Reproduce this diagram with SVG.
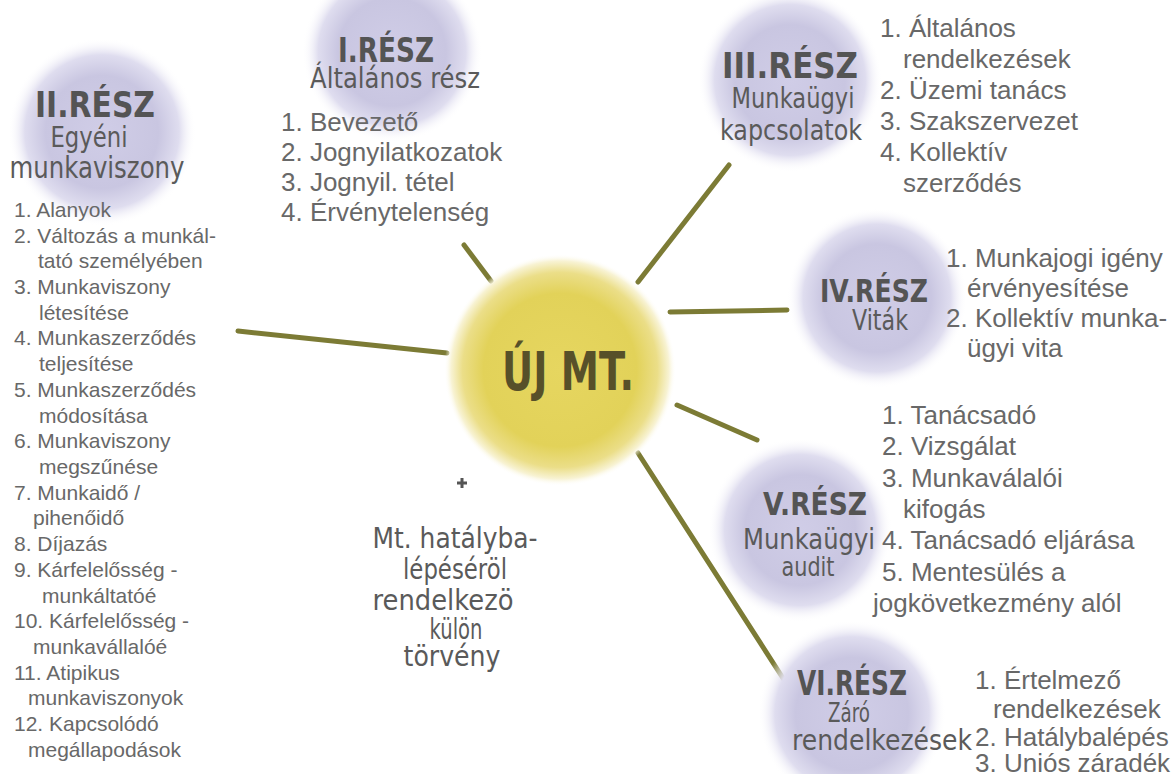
<svg xmlns="http://www.w3.org/2000/svg" width="1172" height="774" viewBox="0 0 1172 774">
<defs>
<radialGradient id="lav" cx="0.5" cy="0.5" r="0.5">
<stop offset="0" stop-color="#d0cde7"/>
<stop offset="0.6" stop-color="#c9c6e1"/>
<stop offset="0.82" stop-color="#dfddef"/>
<stop offset="1" stop-color="#ffffff" stop-opacity="0"/>
</radialGradient>
<radialGradient id="sun" cx="0.5" cy="0.5" r="0.5">
<stop offset="0" stop-color="#e6d660"/>
<stop offset="0.66" stop-color="#e2d259"/>
<stop offset="0.84" stop-color="#ebde88"/>
<stop offset="0.94" stop-color="#f8f3d4"/>
<stop offset="1" stop-color="#ffffff" stop-opacity="0"/>
</radialGradient>
<style>
.hd{font-family:"DejaVu Sans",sans-serif;font-weight:bold;fill:#545454;text-anchor:middle}
.sub{font-family:"DejaVu Sans",sans-serif;fill:#5a5a5a;text-anchor:middle}
.li{font-family:"Liberation Sans",Arial,sans-serif;fill:#686868}
.l21{font-size:21px}
.l26{font-size:26px}
.conn{stroke:#7c7b35;stroke-width:5;stroke-linecap:round;fill:none}
</style>
</defs>
<rect width="1172" height="774" fill="#ffffff"/>

<g id="connectors">
<line class="conn" x1="238" y1="331" x2="447" y2="353"/>
<line class="conn" x1="464" y1="245" x2="491" y2="281"/>
<line class="conn" x1="638" y1="282" x2="729" y2="165"/>
<line class="conn" x1="670" y1="312" x2="787" y2="310"/>
<line class="conn" x1="677" y1="405" x2="757" y2="440"/>
<line class="conn" x1="638" y1="453" x2="788" y2="686"/>
</g>

<g id="center">
<circle cx="560" cy="370" r="116" fill="url(#sun)"/>
<text class="hd" x="568" y="390" font-size="54" textLength="132" lengthAdjust="spacingAndGlyphs" style="fill:#575029">ÚJ MT.</text>
</g>

<g id="part1">
<circle cx="392" cy="52" r="90" fill="url(#lav)"/>
<text class="hd" x="386" y="62" font-size="34" textLength="96" lengthAdjust="spacingAndGlyphs">I.RÉSZ</text>
<text class="sub" x="395" y="88" font-size="28" textLength="170" lengthAdjust="spacingAndGlyphs">Általános rész</text>
<text class="li l26" x="281" y="131">1. Bevezető</text>
<text class="li l26" x="281" y="161">2. Jognyilatkozatok</text>
<text class="li l26" x="281" y="191">3. Jognyil. tétel</text>
<text class="li l26" x="281" y="221">4. Érvénytelenség</text>
</g>

<g id="part2">
<circle cx="102" cy="132" r="94" fill="url(#lav)"/>
<text class="hd" x="95" y="117" font-size="36" textLength="120" lengthAdjust="spacingAndGlyphs">II.RÉSZ</text>
<text class="sub" x="89" y="147" font-size="28" textLength="77" lengthAdjust="spacingAndGlyphs">Egyéni</text>
<text class="sub" x="97" y="178" font-size="30" textLength="175" lengthAdjust="spacingAndGlyphs">munkaviszony</text>
<text class="li l21" x="14" y="217">1. Alanyok</text>
<text class="li l21" x="14" y="243">2. Változás a munkál-</text>
<text class="li l21" x="38" y="268">tató személyében</text>
<text class="li l21" x="14" y="294">3. Munkaviszony</text>
<text class="li l21" x="39" y="320">létesítése</text>
<text class="li l21" x="14" y="345">4. Munkaszerződés</text>
<text class="li l21" x="39" y="371">teljesítése</text>
<text class="li l21" x="14" y="397">5. Munkaszerződés</text>
<text class="li l21" x="39" y="423">módosítása</text>
<text class="li l21" x="14" y="448">6. Munkaviszony</text>
<text class="li l21" x="39" y="474">megszűnése</text>
<text class="li l21" x="14" y="500">7. Munkaidő /</text>
<text class="li l21" x="33" y="525">pihenőidő</text>
<text class="li l21" x="14" y="551">8. Díjazás</text>
<text class="li l21" x="14" y="577">9. Kárfelelősség -</text>
<text class="li l21" x="42" y="603">munkáltatóé</text>
<text class="li l21" x="14" y="628">10. Kárfelelősség -</text>
<text class="li l21" x="33" y="654">munkavállalóé</text>
<text class="li l21" x="14" y="680">11. Atipikus</text>
<text class="li l21" x="28" y="705">munkaviszonyok</text>
<text class="li l21" x="14" y="731">12. Kapcsolódó</text>
<text class="li l21" x="28" y="757">megállapodások</text>
</g>

<g id="part3">
<circle cx="790" cy="80" r="92" fill="url(#lav)"/>
<text class="hd" x="790" y="78" font-size="36" textLength="136" lengthAdjust="spacingAndGlyphs">III.RÉSZ</text>
<text class="sub" x="793" y="108" font-size="28" textLength="123" lengthAdjust="spacingAndGlyphs">Munkaügyi</text>
<text class="sub" x="791" y="140" font-size="28" textLength="142" lengthAdjust="spacingAndGlyphs">kapcsolatok</text>
<text class="li l26" x="880" y="37">1. Általános</text>
<text class="li l26" x="903" y="68">rendelkezések</text>
<text class="li l26" x="880" y="99">2. Üzemi tanács</text>
<text class="li l26" x="880" y="130">3. Szakszervezet</text>
<text class="li l26" x="880" y="161">4. Kollektív</text>
<text class="li l26" x="903" y="192">szerződés</text>
</g>

<g id="part4">
<circle cx="877" cy="298" r="90" fill="url(#lav)"/>
<text class="hd" x="874" y="302" font-size="32" textLength="108" lengthAdjust="spacingAndGlyphs">IV.RÉSZ</text>
<text class="sub" x="880" y="330" font-size="28" textLength="56" lengthAdjust="spacingAndGlyphs">Viták</text>
<text class="li l26" x="946" y="267">1. Munkajogi igény</text>
<text class="li l26" x="967" y="297">érvényesítése</text>
<text class="li l26" x="946" y="327">2. Kollektív munka-</text>
<text class="li l26" x="967" y="357">ügyi vita</text>
</g>

<g id="part5">
<circle cx="800" cy="530" r="92" fill="url(#lav)"/>
<text class="hd" x="815" y="515" font-size="32" textLength="104" lengthAdjust="spacingAndGlyphs">V.RÉSZ</text>
<text class="sub" x="809" y="549" font-size="28" textLength="132" lengthAdjust="spacingAndGlyphs">Munkaügyi</text>
<text class="sub" x="808" y="576" font-size="26" textLength="53" lengthAdjust="spacingAndGlyphs">audit</text>
<text class="li l26" x="882" y="424">1. Tanácsadó</text>
<text class="li l26" x="882" y="455">2. Vizsgálat</text>
<text class="li l26" x="882" y="487">3. Munkaválalói</text>
<text class="li l26" x="903" y="518">kifogás</text>
<text class="li l26" x="882" y="549">4. Tanácsadó eljárása</text>
<text class="li l26" x="882" y="581">5. Mentesülés a</text>
<text class="li l26" x="873" y="612">jogkövetkezmény alól</text>
</g>

<g id="part6">
<circle cx="852" cy="714" r="94" fill="url(#lav)"/>
<text class="hd" x="852" y="695" font-size="34" textLength="110" lengthAdjust="spacingAndGlyphs">VI.RÉSZ</text>
<text class="sub" x="849" y="722" font-size="26" textLength="42" lengthAdjust="spacingAndGlyphs">Záró</text>
<text class="sub" x="882" y="750" font-size="28" textLength="180" lengthAdjust="spacingAndGlyphs">rendelkezések</text>
<text class="li l26" x="975" y="689">1. Értelmező</text>
<text class="li l26" x="993" y="718">rendelkezések</text>
<text class="li l26" x="975" y="746">2. Hatálybalépés</text>
<text class="li l26" x="975" y="772">3. Uniós záradék</text>
</g>

<g id="law">
<path d="M457 483 H467 M462 478 V488" stroke="#555" stroke-width="3" fill="none"/>
<text class="sub" x="455" y="548" font-size="29" textLength="165" lengthAdjust="spacingAndGlyphs">Mt. hatályba-</text>
<text class="sub" x="455" y="579" font-size="29" textLength="104" lengthAdjust="spacingAndGlyphs">lépéséröl</text>
<text class="sub" x="443" y="610" font-size="29" textLength="141" lengthAdjust="spacingAndGlyphs">rendelkezö</text>
<text class="sub" x="456" y="639" font-size="28" textLength="53" lengthAdjust="spacingAndGlyphs">külön</text>
<text class="sub" x="452" y="666" font-size="29" textLength="97" lengthAdjust="spacingAndGlyphs">törvény</text>
</g>
</svg>
